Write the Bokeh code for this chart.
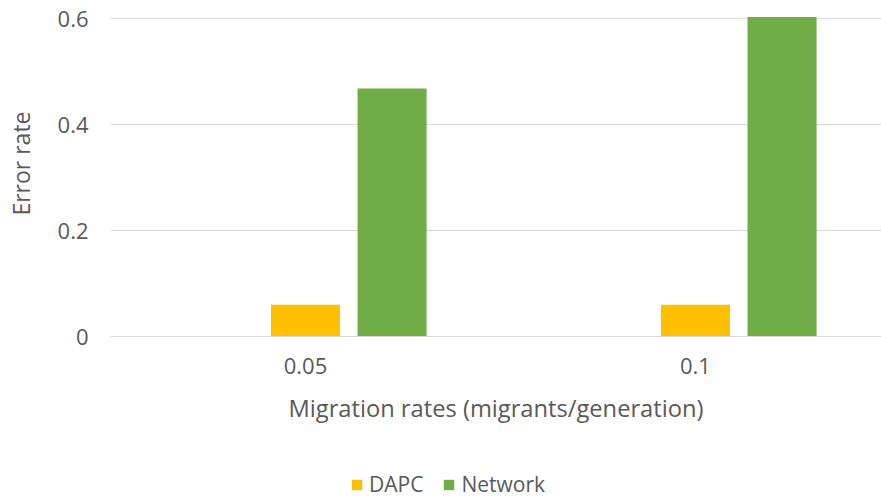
from bokeh.plotting import figure
from bokeh.layouts import column
from bokeh.models import Range1d, FixedTicker, Legend, LegendItem, Title
from bokeh.embed import file_html
from bokeh.resources import INLINE

# Data
categories = ["0.05", "0.1"]
series_names = ["DAPC", "Network"]
dapc = [0.06, 0.06]
network = [0.468, 0.603]
y_ticks = [0, 0.2, 0.4, 0.6]

FONT = "Open Sans"
TEXT = "#595959"
GRID = "#D9D9D9"
COLORS = ["#FFC000", "#70AD47"]

# Each category occupies one unit on the x axis; category i is centred at i + 0.5
centers = [i + 0.5 for i in range(len(categories))]
bar_w = 0.177
dapc_x = [c for c in centers]
net_x = [c + 0.222 for c in centers]

p = figure(width=881, height=456, output_backend="svg", toolbar_location=None,
           x_range=Range1d(0, 1.977), y_range=Range1d(0, 0.6151),
           min_border_left=110, min_border_right=0, min_border_top=10,
           min_border_bottom=120)
p.outline_line_color = None

p.vbar(x=dapc_x, top=dapc, width=bar_w, color=COLORS[0], line_color=None)
p.vbar(x=net_x, top=network, width=bar_w, color=COLORS[1], line_color=None)

# Axes
p.xaxis.ticker = FixedTicker(ticks=centers)
p.xaxis.major_label_overrides = {c: lab for c, lab in zip(centers, categories)}
p.xaxis.axis_label = "Migration rates (migrants/generation)"
p.yaxis.ticker = FixedTicker(ticks=y_ticks)
p.yaxis.major_label_overrides = {0: "0"}

for ax in (p.xaxis[0], p.yaxis[0]):
    ax.major_tick_line_color = None
    ax.minor_tick_line_color = None
    ax.major_tick_out = 0
    ax.major_tick_in = 0
    ax.minor_tick_out = 0
    ax.major_label_text_font = FONT
    ax.major_label_text_font_size = "22px"
    ax.major_label_text_color = TEXT
    ax.axis_label_text_font = FONT
    ax.axis_label_text_font_size = "23.7px"
    ax.axis_label_text_font_style = "normal"
    ax.axis_label_text_color = TEXT

p.xaxis.axis_line_color = GRID
p.xaxis.major_label_standoff = 21
p.xaxis.axis_label_standoff = 15
p.yaxis.axis_line_color = None
p.yaxis.major_label_standoff = 22

# gap between the y tick labels and the y axis title
p.add_layout(Title(text=" ", text_font_size="10px", standoff=5), "left")
# y axis title, placed towards the top of the axis
p.add_layout(Title(text="Error rate", align="right", offset=101, standoff=0,
                   text_font=FONT, text_font_size="23px", text_font_style="normal",
                   text_color=TEXT), "left")

p.xgrid.grid_line_color = None
p.ygrid.grid_line_color = GRID
p.ygrid.ticker = FixedTicker(ticks=y_ticks)

# Legend strip under the chart; its swatch renderers stay hidden
leg = figure(width=881, height=42, output_backend="svg", toolbar_location=None,
             x_range=Range1d(0, 1), y_range=Range1d(0, 1),
             min_border=0)
leg.outline_line_color = None
leg.axis.visible = False
leg.grid.visible = False
swatches = []
for x, vals, c in zip([dapc_x, net_x], [dapc, network], COLORS):
    r = leg.vbar(x=x, top=vals, width=bar_w, color=c, line_color=None)
    r.visible = False
    swatches.append(r)

legend = Legend(items=[LegendItem(label=n, renderers=[r]) for n, r in zip(series_names, swatches)],
                orientation="horizontal", location=(240, 0),
                glyph_width=13, glyph_height=13, label_standoff=6, spacing=19,
                padding=0, margin=0, border_line_color=None,
                background_fill_alpha=0, inactive_fill_alpha=0,
                click_policy="none",
                label_text_font=FONT, label_text_font_size="21px",
                label_text_color=TEXT)
leg.add_layout(legend)

open("out.html", "w").write(file_html(column(p, leg, spacing=0), INLINE))
